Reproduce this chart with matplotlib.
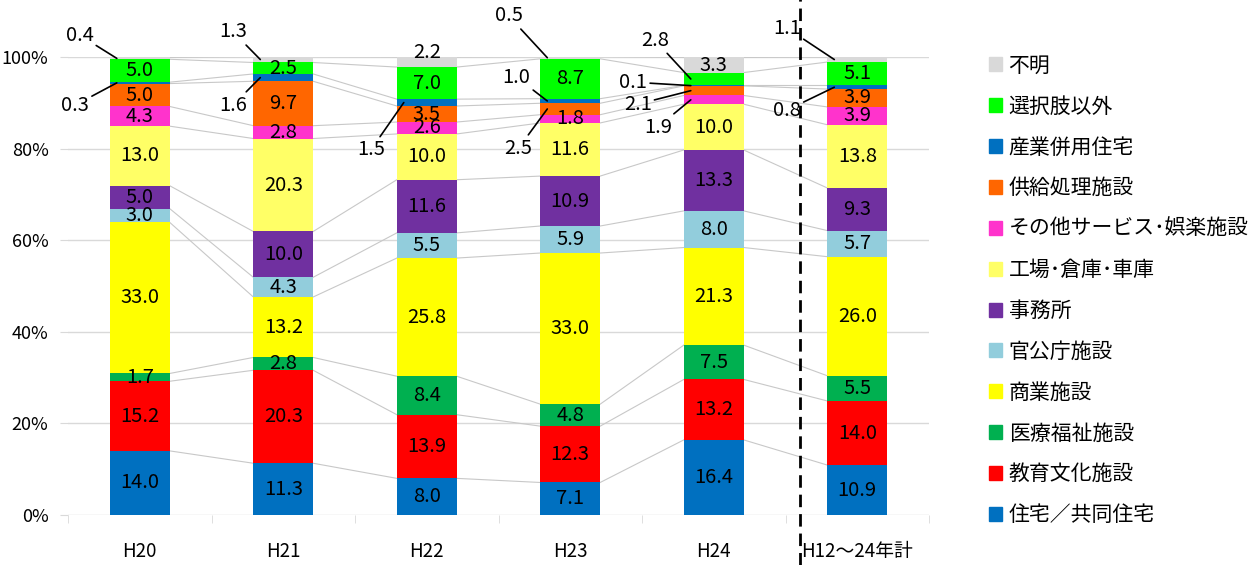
import matplotlib
matplotlib.use('Agg')
import matplotlib.pyplot as plt
import numpy as np

plt.rcParams['font.family'] = ['Noto Sans CJK JP', 'DejaVu Sans']

# Data (percent), bottom to top
categories = ['H20', 'H21', 'H22', 'H23', 'H24', 'H12～24年計']
series_names = ['住宅／共同住宅', '教育文化施設', '医療福祉施設', '商業施設', '官公庁施設',
                '事務所', '工場･倉庫･車庫', 'その他サービス･娯楽施設', '供給処理施設',
                '産業併用住宅', '選択肢以外', '不明']
housing = [14.0, 11.3, 8.0, 7.1, 16.4, 10.9]
education = [15.2, 20.3, 13.9, 12.3, 13.2, 14.0]
medical = [1.7, 2.8, 8.4, 4.8, 7.5, 5.5]
commercial = [33.0, 13.2, 25.8, 33.0, 21.3, 26.0]
government = [3.0, 4.3, 5.5, 5.9, 8.0, 5.7]
office = [5.0, 10.0, 11.6, 10.9, 13.3, 9.3]
factory = [13.0, 20.3, 10.0, 11.6, 10.0, 13.8]
service = [4.3, 2.8, 2.6, 1.8, 1.9, 3.9]
supply = [5.0, 9.7, 3.5, 2.5, 2.1, 3.9]
mixed_use = [0.3, 1.6, 1.5, 1.0, 0.1, 0.8]
other = [5.0, 2.5, 7.0, 8.7, 2.8, 5.1]
unknown = [0.4, 1.3, 2.2, 0.5, 3.3, 1.1]

values = [housing, education, medical, commercial, government, office,
          factory, service, supply, mixed_use, other, unknown]
colors = ['#0070C0', '#FF0000', '#00B050', '#FFFF00', '#92CDDC', '#7030A0',
          '#FFFF66', '#FF33CC', '#FF6600', '#0070C0', '#00FF00', '#D9D9D9']

# labels drawn outside the bar with a leader line: (bar, series) -> (dx, y of label)
leaders = {
    (0, 11): (-0.42, 104.8), (0, 9): (-0.45, 89.5),
    (1, 11): (-0.35, 105.5), (1, 9): (-0.35, 89.5),
    (2, 9): (-0.39, 79.7),
    (3, 11): (-0.43, 109.0), (3, 9): (-0.375, 95.6), (3, 8): (-0.36, 80.1),
    (4, 10): (-0.41, 103.7), (4, 9): (-0.56, 94.5), (4, 8): (-0.53, 89.7), (4, 7): (-0.39, 84.7),
    (5, 11): (-0.49, 106.3), (5, 9): (-0.49, 88.4),
}

W, H = 1253, 565
fig = plt.figure(figsize=(W / 100, H / 100), dpi=100)
ax = fig.add_axes([68 / W, 50 / H, (929 - 68) / W, 458 / H])

x = np.arange(len(categories))
bw = 0.417
bottom = np.zeros(len(categories))
tops = []
for k, vals in enumerate(values):
    vals = np.array(vals)
    ax.bar(x, vals, bw, bottom=bottom, color=colors[k], zorder=3)
    for i in range(len(categories)):
        v = vals[i]
        yc = bottom[i] + v / 2
        if (i, k) in leaders:
            dx, ly = leaders[(i, k)]
            ax.annotate(f'{v:.1f}', xy=(x[i] - 0.16, yc), xytext=(x[i] + dx, ly),
                        ha='center', va='center', fontsize=14.5, annotation_clip=False,
                        arrowprops=dict(arrowstyle='-', color='black', lw=1.2,
                                        shrinkA=0, shrinkB=0), zorder=5)
        else:
            off = 2.0 if (i, k) == (2, 11) else 0
            ax.text(x[i], yc + off, f'{v:.1f}', ha='center', va='center',
                    fontsize=14.5, zorder=5)
    bottom = bottom + vals
    tops.append(bottom.copy())

# series lines between bars
for t in tops:
    for i in range(len(categories) - 1):
        ax.plot([x[i] + bw / 2, x[i + 1] - bw / 2], [t[i], t[i + 1]],
                color='#C8C8C8', lw=0.8, zorder=2)

ax.set_xlim(-0.5, 5.5)
ax.set_ylim(0, 100)
ax.set_yticks(range(0, 101, 20))
ax.set_yticklabels([f'{v}%' for v in range(0, 101, 20)], fontsize=13)
ax.set_xticks(x)
ax.set_xticklabels(categories, fontsize=13.5)
ax.set_xticks(np.arange(-0.5, 6, 1), minor=True)
ax.tick_params(axis='x', which='major', length=0, pad=19)
ax.tick_params(axis='x', which='minor', length=6, color='#D9D9D9')
ax.tick_params(axis='y', length=6, color='#D9D9D9', pad=8)
ax.grid(axis='y', color='#D9D9D9', lw=1, zorder=0)
for s in ax.spines.values():
    s.set_visible(False)

ax.axvline(4.6, ymin=-0.11, ymax=1.13, color='black', lw=2, ls=(0, (4.5, 2.5)),
           clip_on=False, zorder=6)

handles = [plt.Rectangle((0, 0), 1, 1, color=c) for c in colors][::-1]
fig.legend(handles, series_names[::-1], loc='upper left',
           bbox_to_anchor=(970 / W, 1 - 36 / H), frameon=False, fontsize=15,
           handlelength=0.65, handleheight=0.65, handletextpad=0.3, labelspacing=0.905)

fig.savefig('out.png', dpi=100)
